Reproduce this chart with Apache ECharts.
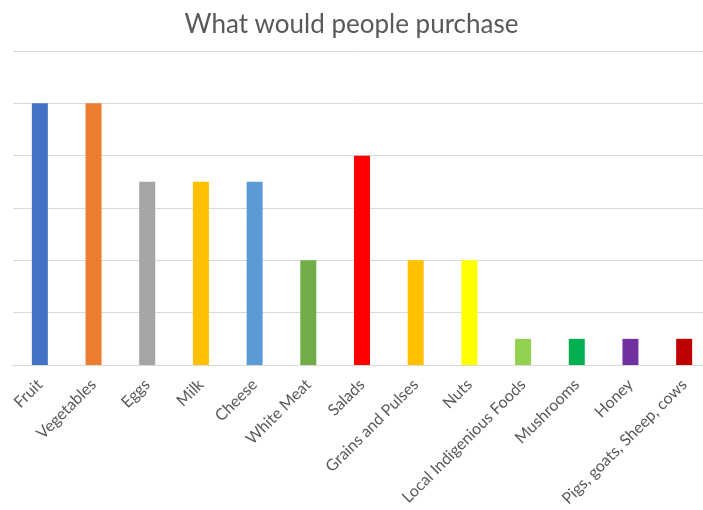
<!DOCTYPE html>
<html><head><meta charset="utf-8">
<script src="https://cdn.jsdelivr.net/npm/echarts@6/dist/echarts.min.js"></script>
<style>html,body{margin:0;padding:0;background:#fff}#c{width:703px;height:510px}</style>
</head><body><div id="c"></div>
<script>
const categories = ["Fruit","Vegetables","Eggs","Milk","Cheese","White Meat","Salads","Grains and Pulses","Nuts","Local Indigenious Foods","Mushrooms","Honey","Pigs, goats, Sheep, cows"];
const values = [5,5,3.5,3.5,3.5,2,4,2,2,0.5,0.5,0.5,0.5];
const colors = ["#4472C4","#ED7D31","#A5A5A5","#FFC000","#5B9BD5","#70AD47","#FF0000","#FFC000","#FFFF00","#92D050","#00B050","#7030A0","#C00000"];
const yMax = 6;

const chart = echarts.init(document.getElementById('c'));
chart.setOption({
  animation:false,
  title:{text:"What would people purchase",left:'center',top:7,
    textStyle:{fontFamily:'Lato',fontSize:26,fontWeight:'normal',color:'#595959'}},
  grid:{left:13,top:51,width:698,height:314,outerBoundsMode:'none',containLabel:false},
  xAxis:{type:'category',data:categories,
    axisLine:{lineStyle:{color:'#D9D9D9',width:1}},axisTick:{show:false},
    axisLabel:{interval:0,rotate:45,margin:17,color:'#595959',fontFamily:'Lato',fontSize:16}},
  yAxis:{type:'value',min:0,max:yMax,interval:1,
    axisLabel:{show:false},axisLine:{show:false},axisTick:{show:false},
    splitLine:{lineStyle:{color:'#D9D9D9',width:1}}},
  series:[{type:'bar',barWidth:16,
    data:values.map((v,i)=>({value:v,itemStyle:{color:colors[i]}}))}]
});
</script></body></html>
